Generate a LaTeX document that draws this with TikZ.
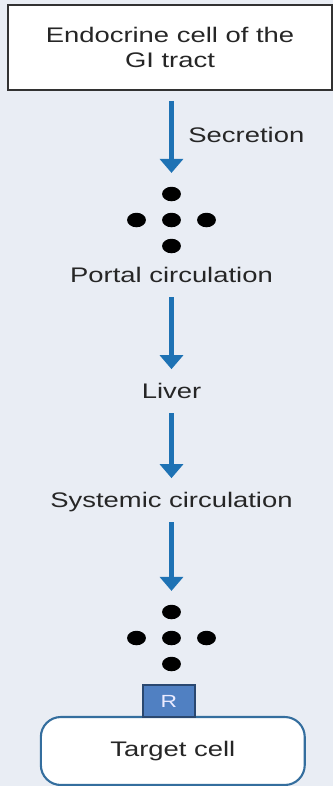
\documentclass[tikz,border=0pt]{standalone}
\usepackage{fontspec}
\setmainfont{Liberation Sans}
\usetikzlibrary{arrows.meta,positioning}
\definecolor{bgpanel}{RGB}{233,237,244}
\definecolor{flowblue}{RGB}{30,114,180}
\definecolor{recfill}{RGB}{80,128,194}
\definecolor{recdraw}{RGB}{42,72,112}
\definecolor{celldraw}{RGB}{52,110,158}
\definecolor{boxdraw}{RGB}{50,50,50}
\tikzset{
  lbl/.style={font=\fontsize{12}{14.2}\selectfont, xscale=1.3, inner sep=0pt,
              text height=0.30cm, text depth=0.10cm, text=black!85},
  srcbox/.style={draw=boxdraw, fill=white, line width=1.1pt, align=center,
                 font=\fontsize{12}{14.2}\selectfont, xscale=1.3,
                 minimum width=4.98cm, minimum height=1.70cm, text=black!85},
  tgtbox/.style={draw=celldraw, fill=white, line width=1.2pt, rounded corners=0.4cm,
                 font=\fontsize{12}{14.2}\selectfont, xscale=1.3,
                 minimum width=4.06cm, minimum height=1.36cm, text=black!85},
  recbox/.style={draw=recdraw, fill=recfill, line width=0.8pt, text=white!92!blue,
                 font=\fontsize{10}{12}\selectfont, xscale=1.3,
                 minimum width=0.80cm, minimum height=0.64cm, inner sep=0pt},
  molec/.style={circle, fill=black, inner sep=0pt, minimum size=2.9mm, xscale=1.3},
  flow/.style={draw=flowblue, line width=2.7pt,
               -{Triangle[length=2.8mm, width=4.6mm]},
               shorten <=0.2cm, shorten >=0.27cm},
}

\begin{document}
\begin{tikzpicture}
\useasboundingbox (0,0) rectangle (6.66,-15.72);
\fill[bgpanel] (0,0) rectangle (6.66,-15.72);

% ---------------- source ----------------
\node[srcbox] (src) at (3.40,-0.95) {Endocrine cell of the\\GI tract};
\node[lbl, anchor=west] (secr) at (3.76,-2.74) {Secretion};

% ---------------- hormone molecules ----------------
\foreach \k/\y in {1/-4.40, 2/-12.76} {
  \node[molec] (d\k-c) at (3.43,\y) {};
  \node[molec] (d\k-l) at (2.73,\y) {};
  \node[molec] (d\k-r) at (4.13,\y) {};
  \node[molec] (d\k-t) at (3.43,\y+0.52) {};
  \node[molec] (d\k-b) at (3.43,\y-0.52) {};
}

% ---------------- route ----------------
\node[lbl] (portal) at (3.43,-5.54) {Portal circulation};
\node[lbl] (liver)  at (3.43,-7.86) {Liver};
\node[lbl] (syst)   at (3.43,-10.04) {Systemic circulation};

\draw[flow] (src.south -| d1-t.north) -- (d1-t.north);
\draw[flow] (portal.south) -- (liver.north);
\draw[flow] (liver.south) -- (syst.north);
\draw[flow] (syst.south) -- (d2-t.north);

% ---------------- target ----------------
\node[tgtbox] (tgt) at (3.456,-15.02) {Target cell};
\node[recbox] (rec) at (3.376,-14.02) {R};
\end{tikzpicture}
\end{document}
